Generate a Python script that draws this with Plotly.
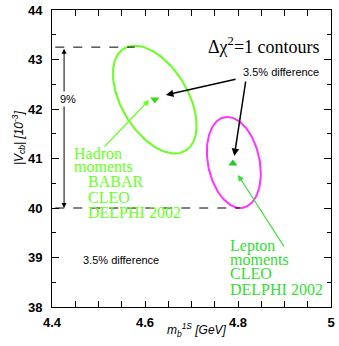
import numpy as np
import plotly.graph_objects as go

# Delta chi^2 = 1 contours: centre, sigma_m, sigma_V, correlation
hadron_fit = [4.621, 42.19, 0.090, 1.09, -0.48]
lepton_fit = [4.791, 40.92, 0.058, 0.92, -0.24]

hadron_point = [4.621, 42.19]
lepton_point = [4.789, 40.90]

x_ticks = [4.4, 4.6, 4.8, 5.0]
x_tick_text = ['4.4', '4.6', '4.8', '5']
y_ticks = [38, 39, 40, 41, 42, 43, 44]

v_top, v_bottom = 43.25, 40.0
dash_top_x = [4.407, 4.578]
dash_bottom_x = [4.407, 4.804]

hadron_lines = ['Hadron', 'moments']
hadron_expts = ['BABAR', 'CLEO', 'DELPHI 2002']
lepton_lines = ['Lepton', 'moments', 'CLEO', 'DELPHI 2002']

HADRON_GREEN = '#66ff22'
LEPTON_GREEN = '#33dd33'
MAGENTA = '#ff33ff'


def contour(p):
    cx, cy, sx, sy, rho = p
    t = np.linspace(0, 2 * np.pi, 200)
    return cx + sx * np.cos(t), cy + sy * (rho * np.cos(t) + np.sqrt(1 - rho ** 2) * np.sin(t))


fig = go.Figure()

hx, hy = contour(hadron_fit)
lx, ly = contour(lepton_fit)
fig.add_trace(go.Scatter(x = hx, y = hy, mode = 'lines', line = dict(color = HADRON_GREEN, width = 2)))
fig.add_trace(go.Scatter(x = lx, y = ly, mode = 'lines', line = dict(color = MAGENTA, width = 2)))
fig.add_trace(go.Scatter(x = [hadron_point[0]], y = [hadron_point[1]], mode = 'markers',
                         marker = dict(symbol = 'triangle-down', size = 8, color = '#33dd11')))
fig.add_trace(go.Scatter(x = [lepton_point[0]], y = [lepton_point[1]], mode = 'markers',
                         marker = dict(symbol = 'triangle-up', size = 8, color = '#22cc22')))

# dashed guide lines
for xs, yv in [(dash_top_x, v_top), (dash_bottom_x, v_bottom)]:
    fig.add_shape(type = 'line', xref = 'x', yref = 'y', x0 = xs[0], x1 = xs[1], y0 = yv, y1 = yv,
                  line = dict(color = 'black', width = 1, dash = 'dash'))

serif = 'Liberation Serif'
sans = 'Liberation Sans'

ann = []
# 9% double arrow
ann.append(dict(x = 4.426, y = v_bottom, ax = 4.426, ay = v_top, xref = 'x', yref = 'y', axref = 'x', ayref = 'y',
                showarrow = True, arrowhead = 2, startarrowhead = 2, arrowside = 'end+start', arrowsize = 1,
                arrowwidth = 1, arrowcolor = 'black', text = ''))
ann.append(dict(x = 4.434, y = 42.2, xref = 'x', yref = 'y', text = '9%', showarrow = False,
                font = dict(family = sans, size = 11, color = 'black'), bgcolor = 'white'))

ann.append(dict(x = 4.856, y = 43.29, xref = 'x', yref = 'y', showarrow = False,
                text = '\u0394\u03c7<sup>2</sup>=1 contours', font = dict(family = serif, size = 18, color = 'black')))
ann.append(dict(x = 4.892, y = 42.75, xref = 'x', yref = 'y', showarrow = False,
                text = '3.5% difference', font = dict(family = sans, size = 11, color = 'black')))
ann.append(dict(x = 4.549, y = 38.95, xref = 'x', yref = 'y', showarrow = False,
                text = '3.5% difference', font = dict(family = sans, size = 11, color = 'black')))

# arrows
arrows = [
    (4.645, 42.283, 4.798, 42.606, 'black', 1.5),
    (4.792, 41.05, 4.817, 42.586, 'black', 1.5),
    (4.609, 42.18, 4.510, 41.212, HADRON_GREEN, 1.2),
    (4.800, 40.667, 4.901, 39.192, LEPTON_GREEN, 1.2),
]
for x, y, ax, ay, c, w in arrows:
    ann.append(dict(x = x, y = y, ax = ax, ay = ay, xref = 'x', yref = 'y', axref = 'x', ayref = 'y',
                    showarrow = True, arrowhead = 2, arrowsize = 1, arrowwidth = w, arrowcolor = c, text = ''))

for txt, y in zip(hadron_lines, [41.111, 40.848]):
    ann.append(dict(x = 4.442, y = y, xref = 'x', yref = 'y', xanchor = 'left', showarrow = False, text = txt,
                    font = dict(family = serif, size = 16, color = HADRON_GREEN)))
for txt, y in zip(hadron_expts, [40.545, 40.222, 39.919]):
    ann.append(dict(x = 4.474, y = y, xref = 'x', yref = 'y', xanchor = 'left', showarrow = False, text = txt,
                    font = dict(family = serif, size = 16, color = HADRON_GREEN)))
for txt, y in zip(lepton_lines, [39.242, 38.96, 38.667, 38.354]):
    ann.append(dict(x = 4.779, y = y, xref = 'x', yref = 'y', xanchor = 'left', showarrow = False, text = txt,
                    font = dict(family = serif, size = 16, color = LEPTON_GREEN)))

# axis titles
ann.append(dict(x = -0.16, y = 0.57, xref = 'paper', yref = 'paper', showarrow = False, textangle = -90,
                text = '<i>|V<sub>cb</sub>| [10<sup>-3</sup>]</i>', font = dict(family = sans, size = 12, color = 'black')))
ann.append(dict(x = 0.52, y = -0.115, xref = 'paper', yref = 'paper', showarrow = False,
                text = '<i>m<sub>b</sub><sup>1S</sup> [GeV]</i>', font = dict(family = sans, size = 12, color = 'black')))

fig.update_layout(
    width = 339,
    height = 346,
    margin = dict(l = 52, r = 8, t = 10, b = 39, autoexpand = False),
    plot_bgcolor = 'white',
    paper_bgcolor = 'white',
    showlegend = False,
    annotations = ann,
)
fig.update_xaxes(
    range = [4.4, 5.0], tickvals = x_ticks, ticktext = x_tick_text, automargin = False,
    ticks = 'inside', ticklen = 6, tickcolor = 'black', showline = True, linecolor = 'black', linewidth = 1,
    mirror = 'ticks', showgrid = False, zeroline = False, ticklabelstandoff = 3,
    tickfont = dict(family = sans, size = 13, color = 'black', weight = 'bold'),
    minor = dict(dtick = 0.05, ticks = 'inside', ticklen = 6, tickcolor = 'black', showgrid = False),
)
fig.update_yaxes(
    range = [38, 44], tickvals = y_ticks, automargin = False,
    ticks = 'inside', ticklen = 7, tickcolor = 'black', showline = True, linecolor = 'black', linewidth = 1,
    mirror = 'ticks', showgrid = False, zeroline = False, ticklabelstandoff = 6,
    tickfont = dict(family = sans, size = 13, color = 'black', weight = 'bold'),
    minor = dict(dtick = 0.5, ticks = 'inside', ticklen = 4, tickcolor = 'black', showgrid = False),
)

# drop the default 8px page margin so the figure sits at the window's corner
fig.write_html("out.html", config = dict(displayModeBar = False),
               post_script = "document.body.style.margin = '0';")
